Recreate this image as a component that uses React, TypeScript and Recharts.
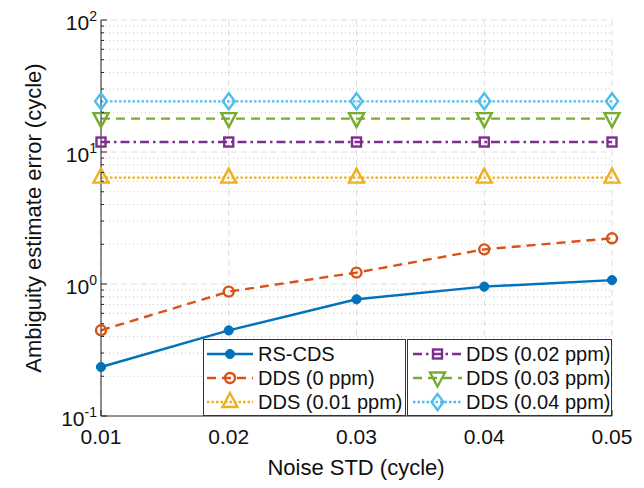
import { LineChart, Line, XAxis, YAxis, CartesianGrid, ReferenceLine, Legend } from "recharts"

const noiseStd = [0.01, 0.02, 0.03, 0.04, 0.05]
const rsCds = [0.235, 0.445, 0.766, 0.955, 1.07]
const dds0ppm = [0.446, 0.876, 1.22, 1.83, 2.22]
const dds001ppm = [6.4, 6.4, 6.4, 6.4, 6.4]
const dds002ppm = [11.9, 11.9, 11.9, 11.9, 11.9]
const dds003ppm = [17.9, 17.9, 17.9, 17.9, 17.9]
const dds004ppm = [24.2, 24.2, 24.2, 24.2, 24.2]

const xTicks = [0.01, 0.02, 0.03, 0.04, 0.05]
const yMajorTicks = [0.1, 1, 10, 100]
const yMinorTicks = [
  0.2, 0.3, 0.4, 0.5, 0.6, 0.7, 0.8, 0.9,
  2, 3, 4, 5, 6, 7, 8, 9,
  20, 30, 40, 50, 60, 70, 80, 90,
]

const FONT = "'Liberation Sans', Arial, Helvetica, sans-serif"
const AXIS = "#262626"

const data = noiseStd.map((x, i) => ({
  x,
  rsCds: rsCds[i],
  dds0: dds0ppm[i],
  dds001: dds001ppm[i],
  dds002: dds002ppm[i],
  dds003: dds003ppm[i],
  dds004: dds004ppm[i],
}))

type Shape = "dot" | "circle" | "triUp" | "square" | "triDown" | "diamond"

const series: { key: string; name: string; color: string; dash?: string; shape: Shape }[] = [
  { key: "rsCds", name: "RS-CDS", color: "#0072BD", shape: "dot" },
  { key: "dds0", name: "DDS (0 ppm)", color: "#D95319", dash: "9 6", shape: "circle" },
  { key: "dds001", name: "DDS (0.01 ppm)", color: "#EDB120", dash: "2.5 2", shape: "triUp" },
  { key: "dds002", name: "DDS (0.02 ppm)", color: "#7E2F8E", dash: "9 4 2.5 4", shape: "square" },
  { key: "dds003", name: "DDS (0.03 ppm)", color: "#77AC30", dash: "9 6", shape: "triDown" },
  { key: "dds004", name: "DDS (0.04 ppm)", color: "#4DBEEE", dash: "2.5 2", shape: "diamond" },
]

function Marker({ cx, cy, shape, color }: { cx: number; cy: number; shape: Shape; color: string }) {
  const common = { fill: "none", stroke: color, strokeWidth: 2.4 }
  switch (shape) {
    case "dot":
      return <circle cx={cx} cy={cy} r={4.6} fill={color} stroke={color} />
    case "circle":
      return <circle cx={cx} cy={cy} r={5} {...common} />
    case "triUp":
      return <polygon points={`${cx},${cy - 9} ${cx + 7.5},${cy + 5} ${cx - 7.5},${cy + 5}`} {...common} />
    case "triDown":
      return <polygon points={`${cx - 7.5},${cy - 5.5} ${cx + 7.5},${cy - 5.5} ${cx},${cy + 8.5}`} {...common} />
    case "square":
      return <rect x={cx - 4.5} y={cy - 4.5} width={9} height={9} {...common} />
    case "diamond":
      return <polygon points={`${cx},${cy - 8} ${cx + 6},${cy} ${cx},${cy + 8} ${cx - 6},${cy}`} {...common} />
  }
}

function makeDot(shape: Shape, color: string) {
  return (p: any) => <Marker key={p.index} cx={p.cx} cy={p.cy} shape={shape} color={color} />
}

function YTick(props: any) {
  const { x, y, payload } = props
  const v = payload.value
  const major = yMajorTicks.includes(v)
  const ax = x + 4
  return (
    <g>
      <line x1={ax} x2={ax + (major ? 6 : 3)} y1={y} y2={y} stroke={AXIS} />
      {major && (
        <text x={x} y={y + 10} textAnchor="end" fontFamily={FONT} fontSize={21} fill="#111">
          10
          <tspan dy={-9} fontSize={14}>{Math.round(Math.log10(v))}</tspan>
        </text>
      )}
    </g>
  )
}

function XTick(props: any) {
  const { x, y, payload } = props
  const ay = y - 8
  return (
    <g>
      <line x1={x} x2={x} y1={ay} y2={ay - 6} stroke={AXIS} />
      <text x={x} y={y + 20} textAnchor="middle" fontFamily={FONT} fontSize={21} fill="#111">
        {payload.value.toFixed(2)}
      </text>
    </g>
  )
}

function LegendBoxes() {
  const rows = [15, 39, 63]
  const boxes = [
    { left: 0, width: 203, lineFrom: 4, lineTo: 50, text: 55, items: series.slice(0, 3) },
    { left: 204, width: 205, lineFrom: 6, lineTo: 55, text: 59, items: series.slice(3) },
  ]
  return (
    <svg width={410} height={77} style={{ display: "block" }}>
      {boxes.map((b) => (
        <g key={b.left} transform={`translate(${b.left},0)`}>
          <rect x={0.5} y={0.5} width={b.width - 1} height={76} fill="#fff" stroke="#333" />
          {b.items.map((s, i) => {
            const cy = rows[i]
            const mid = (b.lineFrom + b.lineTo) / 2
            return (
              <g key={s.key}>
                <line x1={b.lineFrom} x2={b.lineTo} y1={cy} y2={cy} stroke={s.color} strokeWidth={2.4} strokeDasharray={s.dash} />
                <Marker cx={mid} cy={cy} shape={s.shape} color={s.color} />
                <text x={b.text} y={cy + 7} fontFamily={FONT} fontSize={20} fill="#111">
                  {s.name}
                </text>
              </g>
            )
          })}
        </g>
      ))}
    </svg>
  )
}

export default function App() {
  return (
    <div style={{ position: "absolute", left: 0, top: 0, background: "#fff" }}>
      <LineChart width={644} height={488} data={data} margin={{ top: 20, right: 32, bottom: 32, left: 41 }}>
        <CartesianGrid horizontal={false} strokeDasharray="6 4" stroke="#dedede" />
        {yMinorTicks.map((v) => (
          <ReferenceLine key={`m${v}`} y={v} stroke="#c4c4c4" strokeDasharray="1 3" />
        ))}
        {yMajorTicks.slice(1).map((v) => (
          <ReferenceLine key={`M${v}`} y={v} stroke="#dedede" strokeDasharray="6 4" />
        ))}
        <XAxis
          dataKey="x"
          type="number"
          domain={[0.01, 0.05]}
          ticks={xTicks}
          interval={0}
          height={40}
          tickSize={0}
          tickMargin={8}
          tick={<XTick />}
          axisLine={{ stroke: AXIS }}
          label={{
            content: () => (
              <text x={356} y={475} textAnchor="middle" fontFamily={FONT} fontSize={22} fill="#111">
                Noise STD (cycle)
              </text>
            ),
          }}
        />
        <YAxis
          type="number"
          scale="log"
          domain={[0.1, 100]}
          allowDataOverflow
          ticks={[...yMajorTicks, ...yMinorTicks]}
          interval={0}
          width={60}
          tickSize={0}
          tickMargin={4}
          tick={<YTick />}
          axisLine={{ stroke: AXIS }}
          label={{
            content: () => (
              <text
                x={41}
                y={218}
                transform="rotate(-90 41 218)"
                textAnchor="middle"
                fontFamily={FONT}
                fontSize={22}
                fill="#111"
              >
                Ambiguity estimate error (cycle)
              </text>
            ),
          }}
        />
        {series.map((s) => (
          <Line
            key={s.key}
            type="linear"
            dataKey={s.key}
            name={s.name}
            stroke={s.color}
            strokeWidth={2.4}
            strokeDasharray={s.dash}
            dot={makeDot(s.shape, s.color)}
            activeDot={false}
            isAnimationActive={false}
          />
        ))}
        <Legend
          layout="horizontal"
          verticalAlign="middle"
          align="center"
          content={() => <LegendBoxes />}
          wrapperStyle={{ position: "absolute", left: 203, top: 339, width: 410, height: 77 }}
        />
      </LineChart>
    </div>
  )
}
